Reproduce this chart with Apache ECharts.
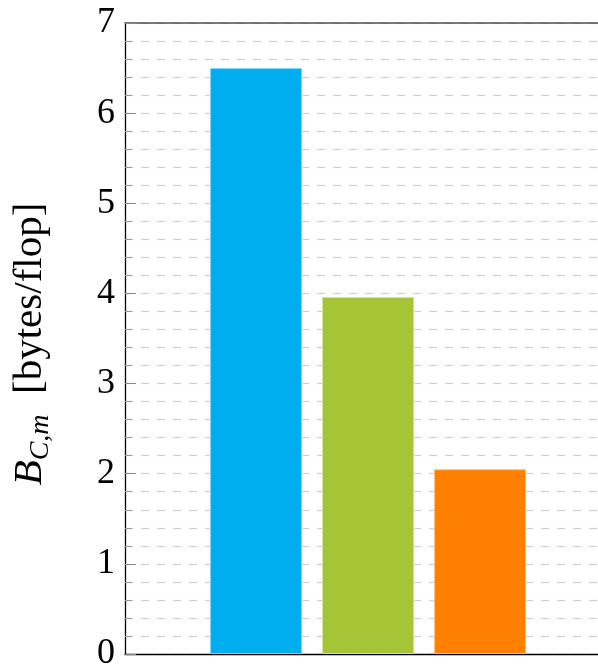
<!DOCTYPE html>
<html>
<head>
<meta charset="utf-8">
<script src="https://cdn.jsdelivr.net/npm/echarts@6/dist/echarts.min.js"></script>
<style>
  html, body { margin: 0; padding: 0; background: #fff; }
  #chart { width: 598px; height: 672px; }
</style>
</head>
<body>
<div id="chart"></div>
<script>
// Bar positions along the (hidden) horizontal value axis and their heights
const positions = [1, 2, 3];
const values = [6.5, 3.96, 2.05];
const fillColors = ['#00aeef', '#a5c536', '#ff8000'];
const edgeColors = ['#7fd6f7', '#d2e29a', '#ffbf80'];
const yTicks = [0, 1, 2, 3, 4, 5, 6, 7];

const SERIF = '"Liberation Serif", "DejaVu Serif", serif';
const X_MIN = -0.17;
const X_MAX = 4.053;

const chart = echarts.init(document.getElementById('chart'), null, { renderer: 'canvas' });

const barData = positions.map((p, i) => ({
  value: [p, values[i]],
  itemStyle: { color: fillColors[i], borderColor: edgeColors[i], borderWidth: 1 }
}));

chart.setOption({
  animation: false,
  grid: { left: 125, top: 23, bottom: 12, right: 0, containLabel: false },
  xAxis: [
    {
      type: 'value',
      min: X_MIN,
      max: X_MAX,
      position: 'bottom',
      axisLine: { show: true, onZero: false, lineStyle: { color: '#000', width: 1.3 } },
      axisTick: { show: false },
      axisLabel: { show: false },
      splitLine: { show: false }
    },
    {
      type: 'value',
      min: X_MIN,
      max: X_MAX,
      position: 'top',
      axisLine: { show: true, onZero: false, lineStyle: { color: '#4d4d4d', width: 1.5 } },
      axisTick: { show: false },
      axisLabel: { show: false },
      splitLine: { show: false }
    }
  ],
  yAxis: {
    type: 'value',
    min: yTicks[0],
    max: yTicks[yTicks.length - 1],
    interval: 1,
    axisLine: { show: true, onZero: false, lineStyle: { color: '#000', width: 1.3 } },
    axisTick: { show: true, inside: true, length: 11, lineStyle: { color: '#888', width: 1 } },
    minorTick: { show: true, splitNumber: 5, length: 7, lineStyle: { color: '#999', width: 1 } },
    axisLabel: {
      margin: 10,
      fontFamily: SERIF,
      fontSize: 36,
      color: '#000'
    },
    splitLine: { show: true, lineStyle: { color: '#cfcfcf', type: [8, 8], width: 1.2 } },
    minorSplitLine: { show: true, lineStyle: { color: '#cfcfcf', type: [8, 8], width: 1.2 } }
  },
  series: [{
    type: 'bar',
    xAxisIndex: 0,
    barWidth: 92,
    data: barData
  }],
  graphic: [{
    type: 'text',
    x: 30,
    y: 344,
    rotation: Math.PI / 2,
    style: {
      text: '{i|B}{sub|C,m}{n|  [bytes/flop]}',
      align: 'center',
      verticalAlign: 'middle',
      rich: {
        i: { fontFamily: SERIF, fontStyle: 'italic', fontSize: 41, lineHeight: 50, verticalAlign: 'middle', fill: '#000' },
        sub: { fontFamily: SERIF, fontStyle: 'italic', fontSize: 28, lineHeight: 50, verticalAlign: 'bottom', fill: '#000' },
        n: { fontFamily: SERIF, fontSize: 41, lineHeight: 50, verticalAlign: 'middle', fill: '#000' }
      }
    }
  }]
});
</script>
</body>
</html>
